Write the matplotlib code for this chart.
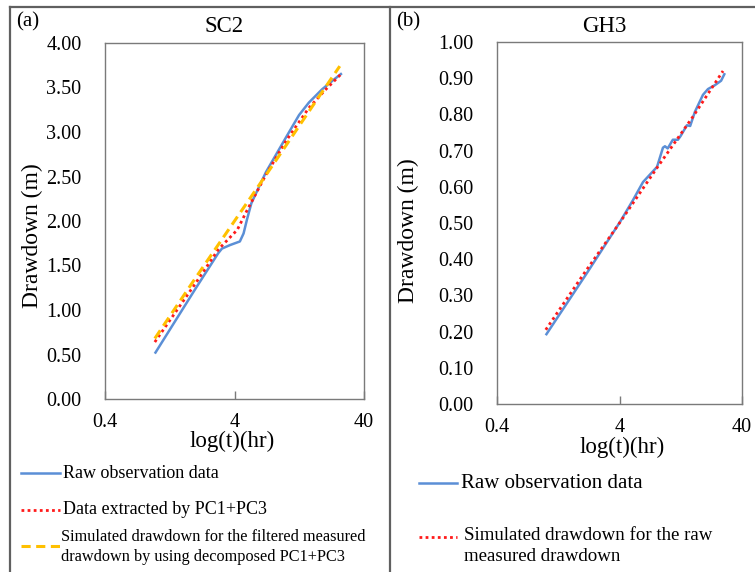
import matplotlib
matplotlib.use("Agg")
import matplotlib.pyplot as plt
from matplotlib.lines import Line2D
from matplotlib.ticker import FixedLocator, NullLocator, FixedFormatter

plt.rcParams['font.family'] = ['Liberation Serif', 'DejaVu Serif']

# ---------------- data ----------------
x_ticks = [0.4, 4, 40]
x_tick_labels = ["0.4", "4", "40"]

sc2_t_raw = [0.97, 1.5, 2.0, 2.5, 3.0, 3.2, 3.7, 4.4, 4.7, 5.0, 5.4, 7.0, 10.0, 12.6, 15.0, 19.0, 23.0, 27.0]
sc2_raw = [0.51, 0.95, 1.24, 1.46, 1.64, 1.69, 1.73, 1.77, 1.86, 2.02, 2.20, 2.55, 2.94, 3.19, 3.33, 3.48, 3.58, 3.66]

sc2_t_pc = [0.97, 2.0, 3.0, 4.2, 5.0, 7.0, 10.0, 15.0, 20.0, 27.0]
sc2_pc = [0.64, 1.30, 1.68, 1.90, 2.12, 2.52, 2.90, 3.27, 3.47, 3.66]

sc2_t_sim = [0.97, 2.0, 4.0, 8.0, 16.0, 26.0]
sc2_sim = [0.68, 1.36, 2.00, 2.64, 3.29, 3.74]

gh3_t_raw = [1.0, 2.17, 4.04, 5.15, 6.22, 8.1, 9.05, 9.4, 9.9, 10.9, 12.0, 12.6, 14.2, 15.1,
             16.5, 19.2, 21.1, 24.1, 25.5, 27.0, 29.0]
gh3_raw = [0.19, 0.362, 0.503, 0.563, 0.613, 0.655, 0.708, 0.712, 0.706, 0.73, 0.73, 0.74, 0.77,
           0.768, 0.807, 0.854, 0.87, 0.881, 0.887, 0.893, 0.914]

gh3_t_sim = [1.0, 2.0, 4.0, 8.0, 16.0, 28.0]
gh3_sim = [0.205, 0.355, 0.50, 0.65, 0.795, 0.92]

sc2_yticks = [0.0, 0.5, 1.0, 1.5, 2.0, 2.5, 3.0, 3.5, 4.0]
gh3_yticks = [0.0, 0.1, 0.2, 0.3, 0.4, 0.5, 0.6, 0.7, 0.8, 0.9, 1.0]

# ---------------- styles ----------------
BLUE = "#5B8FD6"
RED = "#FF1A1A"
GOLD = "#FFC000"
SPINE = "#7a7a7a"
FRAME = "#606060"

W, H = 755, 572
fig = plt.figure(figsize=(W / 100, H / 100), dpi=100)


def fx(px):
    return px / W


def fy(py):
    return 1 - py / H


def style_axes(ax, ylim, yticks, ylabel_xy, xlabel_xy):
    ax.set_xscale("log")
    ax.set_xlim(0.4, 40)
    ax.set_ylim(*ylim)
    ax.xaxis.set_major_locator(FixedLocator(x_ticks))
    ax.xaxis.set_major_formatter(FixedFormatter(x_tick_labels))
    ax.xaxis.set_minor_locator(NullLocator())
    ax.set_yticks(yticks)
    ax.set_yticklabels(["%.2f" % v for v in yticks])
    ax.tick_params(axis="x", direction="in", length=6, width=1, color=SPINE,
                   labelsize=14.5, pad=10, top=False)
    ax.tick_params(axis="y", length=0, labelsize=14.5, pad=17)
    for s in ax.spines.values():
        s.set_color(SPINE)
        s.set_linewidth(1.0)
    ax.set_ylabel("Drawdown (m)", fontsize=17)
    ax.yaxis.set_label_coords(*ylabel_xy)
    ax.set_xlabel("log(t)(hr)", fontsize=16.5)
    ax.xaxis.set_label_coords(*xlabel_xy)


# ---------- panel (a) ----------
ax1 = fig.add_axes([fx(105), fy(399), fx(364) - fx(105), fy(43) - fy(399)])
ax1.plot(sc2_t_raw, sc2_raw, color=BLUE, lw=1.8, solid_capstyle="butt")
ax1.plot(sc2_t_pc, sc2_pc, color=RED, lw=2.0, linestyle=(0, (1, 1.2)))
ax1.plot(sc2_t_sim, sc2_sim, color=GOLD, lw=2.2, linestyle=(0, (3.2, 1.8)))
style_axes(ax1, (0, 4), sc2_yticks, (-0.24, 0.46), (0.49, -0.09))
fig.text(fx(224), fy(27), "SC2", fontsize=16.5, ha="center", va="center")
fig.text(fx(16), fy(22), "(a)", fontsize=15, ha="left", va="center")

# ---------- panel (b) ----------
ax2 = fig.add_axes([fx(497), fy(404), fx(742) - fx(497), fy(42) - fy(404)])
ax2.plot(gh3_t_raw, gh3_raw, color=BLUE, lw=1.8, solid_capstyle="butt")
ax2.plot(gh3_t_sim, gh3_sim, color=RED, lw=2.0, linestyle=(0, (1, 1.2)))
style_axes(ax2, (0, 1), gh3_yticks, (-0.32, 0.48), (0.51, -0.09))
fig.text(fx(604), fy(27), "GH3", fontsize=16.5, ha="center", va="center")
fig.text(fx(396), fy(22), "(b)", fontsize=15, ha="left", va="center")

# ---------- frame lines ----------
for xs, ys in [((10, 755), (7, 7)), ((10, 10), (7, 572)), ((390, 390), (7, 572))]:
    fig.add_artist(Line2D([fx(xs[0]), fx(xs[1])], [fy(ys[0]), fy(ys[1])],
                          transform=fig.transFigure, color=FRAME, lw=1.6))


# ---------- legends (drawn manually) ----------
def handle(x0, x1, y, **kw):
    fig.add_artist(Line2D([fx(x0), fx(x1)], [fy(y), fy(y)], transform=fig.transFigure, **kw))


handle(21, 60, 473, color=BLUE, lw=1.8)
fig.text(fx(63), fy(473), "Raw observation data", fontsize=13, va="center", ha="left")
handle(21, 60, 510, color=RED, lw=2.0, linestyle=(0, (1, 1.2)))
fig.text(fx(63), fy(510), "Data extracted by PC1+PC3", fontsize=13, va="center", ha="left")
handle(21, 60, 546, color=GOLD, lw=2.2, linestyle=(0, (3.0, 1.8)))
fig.text(fx(61), fy(547), "Simulated drawdown for the filtered measured\ndrawdown by using decomposed PC1+PC3",
         fontsize=11.7, va="center", ha="left", linespacing=1.35)

handle(419, 457, 537, color=RED, lw=2.0, linestyle=(0, (1, 1.2)))
handle(419, 457, 483, color=BLUE, lw=1.8)
fig.text(fx(461), fy(483), "Raw observation data", fontsize=15, va="center", ha="left")
fig.text(fx(464), fy(546), "Simulated drawdown for the raw\nmeasured drawdown",
         fontsize=13.6, va="center", ha="left", linespacing=1.35)

fig.savefig("out.png", dpi=100)
